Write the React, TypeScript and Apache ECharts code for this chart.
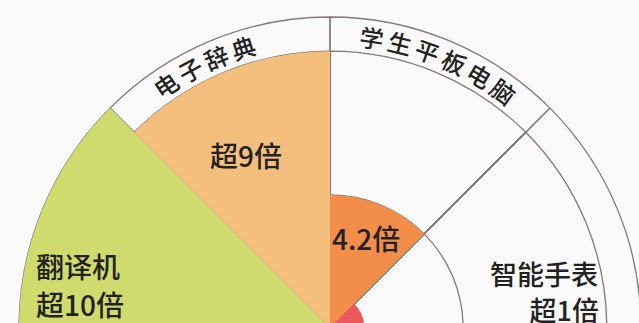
import React, { useEffect, useRef } from 'react';
import * as echarts from 'echarts';

// ---- data ----
const categories = ['翻译机', '电子辞典', '学生平板电脑', '智能手表'];
const values = [10, 8.9, 4.28, 1.1];
const valueLabels = ['超10倍', '超9倍', '4.2倍', '超1倍'];
const ringLabelNames = ['电子辞典', '学生平板电脑'];

// ---- layout / style ----
const W = 639;
const H = 323;
const CX = 330;
const CY = 328;
const R = 311;
const AXIS_MAX = 10;
const RING_INNER = 8.9;
const INNER_GRID = 4.28;
const COLORS = ['#CFDB6C', '#F4BE7C', '#F28E4A', '#E9585A'];
const LINE = '#857878';
const TEXT = '#222222';
const FONT = '"Noto Sans CJK SC", "Noto Sans", sans-serif';

const ringAngles: Record<string, number> = { '电子辞典': 115.6, '学生平板电脑': 67.8 };
const RING_TEXT_R = 294;
const RING_STEP = 5.6;

function ringChars(name: string) {
  const chars = Array.from(name);
  const n = chars.length;
  const c = ringAngles[name];
  return chars.map((ch, j) => {
    const th = c + ((n - 1) / 2 - j) * RING_STEP;
    const rad = (th * Math.PI) / 180;
    return {
      type: 'text',
      x: CX + RING_TEXT_R * Math.cos(rad),
      y: CY - RING_TEXT_R * Math.sin(rad),
      rotation: ((th - 90) * Math.PI) / 180,
      z: 10,
      style: {
        text: ch,
        fill: TEXT,
        fontSize: 24,
        fontWeight: 500,
        fontFamily: FONT,
        align: 'center',
        verticalAlign: 'middle',
        textAlign: 'center',
        textVerticalAlign: 'middle',
      },
    };
  });
}

function label(text: string, x: number, y: number, align: string, size = 28) {
  return {
    type: 'text',
    x,
    y,
    z: 10,
    style: {
      text,
      fill: TEXT,
      fontSize: size,
      fontWeight: 500,
      fontFamily: FONT,
      align,
      verticalAlign: 'middle',
      textAlign: align,
      textVerticalAlign: 'middle',
    },
  };
}

export default function App() {
  const ref = useRef<HTMLDivElement>(null);
  useEffect(() => {
    document.body.style.margin = '0';
    const chart = echarts.init(ref.current!, null, { renderer: 'svg' });
    const frame = (name: string, v: number) => ({
      name,
      type: 'bar',
      coordinateSystem: 'polar',
      data: categories.map(() => v),
      barCategoryGap: '0%',
      barGap: '-100%',
      z: 1,
      silent: true,
      itemStyle: { color: 'rgba(0,0,0,0)', borderColor: LINE, borderWidth: 1.3 },
    });
    chart.setOption({
      animation: false,
      backgroundColor: '#FAFAFA',
      polar: { center: [CX, CY], radius: R },
      angleAxis: {
        type: 'category',
        data: categories,
        max: 7,
        startAngle: 180,
        clockwise: true,
        axisLine: { show: false },
        axisTick: { show: false },
        axisLabel: { show: false },
        splitLine: { show: false },
      },
      radiusAxis: {
        type: 'value',
        min: 0,
        max: AXIS_MAX,
        axisLine: { show: false },
        axisTick: { show: false },
        axisLabel: { show: false },
        splitLine: { show: false },
      },
      series: [
        frame('ring', AXIS_MAX),
        frame('ringInner', RING_INNER),
        frame('grid', INNER_GRID),
        {
          name: 'value',
          type: 'bar',
          coordinateSystem: 'polar',
          barCategoryGap: '0%',
          barGap: '-100%',
          z: 2,
          data: values.map((v, i) => ({ value: v, itemStyle: { color: COLORS[i] } })),
        },
      ],
      graphic: [
        ...ringLabelNames.flatMap((n) => ringChars(n)),
        label(categories[0], 36, 266, 'left'),
        label(valueLabels[0], 36, 304, 'left'),
        label(valueLabels[1], 246, 155, 'center'),
        label(valueLabels[2], 332, 238, 'left'),
        label(categories[3], 598, 273, 'right', 27),
        label(valueLabels[3], 599, 309, 'right', 27),
      ],
    });
    return () => chart.dispose();
  }, []);
  return <div ref={ref} style={{ width: W, height: H, background: '#FAFAFA' }} />;
}
